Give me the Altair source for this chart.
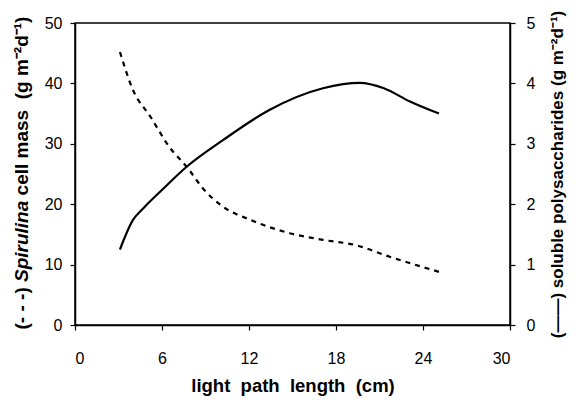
import altair as alt
import pandas as pd

# Spirulina cell mass (dashed, left axis)
x_cell = [3.1, 4.0, 5.2, 6.5, 7.7, 8.9, 10.2, 12.1, 14.8, 17.1, 19.4, 21.7, 25.1]
y_cell = [45.2, 38.9, 34.5, 29.5, 26.2, 22.4, 19.6, 17.4, 15.2, 14.1, 13.2, 11.3, 8.8]

# soluble polysaccharides (solid, right axis)
x_poly = [3.1, 4.0, 4.7, 6.1, 7.7, 10.2, 13.4, 17.1, 19.65, 21.3, 23.1, 25.1]
y_poly = [1.25, 1.74, 1.93, 2.26, 2.62, 3.06, 3.56, 3.92, 4.01, 3.92, 3.70, 3.50]

x_ticks = [0, 6, 12, 18, 24, 30]
left_ticks = [0, 10, 20, 30, 40, 50]
right_ticks = [0, 1, 2, 3, 4, 5]

# left axis title, split so that the genus name can be italic
left_title_a = "(- - -)"
left_title_b = "Spirulina"
left_title_c = "cell mass\u00a0 (g m\u207b\u00b2d\u207b\u00b9)"
right_title = "(\u2014\u2014) soluble polysaccharides (g m\u207b\u00b2d\u207b\u00b9)"
x_title = "light\u00a0 path\u00a0 length\u00a0 (cm)"

df_cell = pd.DataFrame({"x": x_cell, "y": y_cell})
df_poly = pd.DataFrame({"x": x_poly, "y": y_poly})

FONT = "Liberation Sans"
TFS = 19  # title font size
# Arial/Liberation Sans Bold advance widths (em) of "Spirulina" and a space
spirulina_em = 0.667 + 0.611 + 0.278 + 0.389 + 0.611 + 0.278 + 0.278 + 0.611 + 0.556
space_px = 0.278 * TFS
title_x = -53
anchor1 = 259
anchor2 = anchor1 - spirulina_em * TFS

xenc = alt.X("x:Q", scale=alt.Scale(domain=[0, 30], nice=False),
             axis=alt.Axis(values=x_ticks, title=x_title, titleFontSize=18.5,
                           titlePadding=10, labelPadding=20))

cell = alt.Chart(df_cell).mark_line(
    color="black", strokeWidth=2.2, strokeDash=[5, 5], interpolate="monotone"
).encode(
    x=xenc,
    y=alt.Y("y:Q", scale=alt.Scale(domain=[0, 50], nice=False),
            axis=alt.Axis(values=left_ticks, title=None, labelPadding=8)),
)

poly = alt.Chart(df_poly).mark_line(
    color="black", strokeWidth=2.2, interpolate="monotone"
).encode(
    x=xenc,
    y=alt.Y("y:Q", scale=alt.Scale(domain=[0, 5], nice=False),
            axis=alt.Axis(orient="right", values=right_ticks, title=right_title,
                          titleFontSize=17, titleAngle=270, titlePadding=32,
                          labelPadding=11)),
)


def title_piece(txt, ypos, align, style):
    return alt.Chart(pd.DataFrame({"t": [txt]})).mark_text(
        angle=270, align=align, baseline="middle", font=FONT, fontSize=TFS,
        fontWeight="bold", fontStyle=style, color="black"
    ).encode(text="t:N", x=alt.value(title_x), y=alt.value(ypos))


ta = title_piece(left_title_a, anchor1 + space_px, "right", "normal")
tb = title_piece(left_title_b, anchor1, "left", "italic")
tc = title_piece(left_title_c, anchor2 - space_px, "left", "normal")

chart = alt.layer(cell, poly, ta, tb, tc).resolve_scale(y="independent").properties(
    width=435, height=302,
    background="white",
    autosize=alt.AutoSizeParams(type="none"),
    padding={"left": 67, "top": 15, "right": 60, "bottom": 80},
).configure_view(
    stroke="black", strokeWidth=1.5
).configure_axis(
    grid=False, domainColor="black", domainWidth=1.5, tickColor="black",
    tickSize=5, tickWidth=1.2,
    labelFont=FONT, labelFontSize=16, labelColor="black",
    titleFont=FONT, titleFontWeight="bold", titleColor="black",
)

chart.save("out.html", embed_options={"renderer": "svg", "actions": False})
